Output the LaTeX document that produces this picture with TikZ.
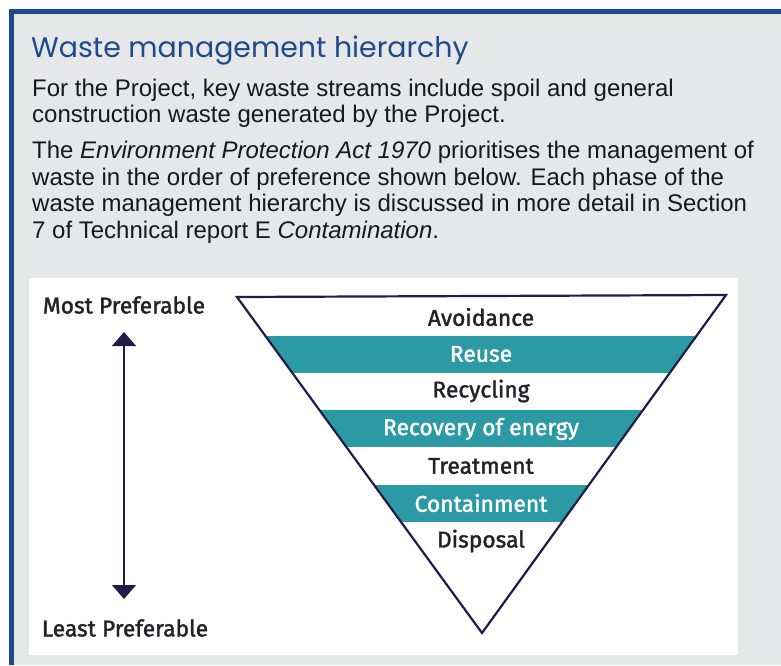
\documentclass[tikz,border=0pt]{standalone}
\usepackage{fontspec}
\setmainfont{Liberation Sans}
\newfontfamily\titlefont{Poppins}
\newfontfamily\labelfont{Fira Sans}[FakeBold=1.6]
\usetikzlibrary{arrows.meta,positioning}

\definecolor{boxblue}{HTML}{1F4A8C}
\definecolor{boxgray}{HTML}{E6E7E9}
\definecolor{bandteal}{HTML}{2B9AA5}
\definecolor{inkblue}{HTML}{211D4A}
\definecolor{labink}{HTML}{222228}

\begin{document}
\begin{tikzpicture}[x=1pt,y=-1pt,
          band/.style={fill=bandteal},
          lab/.style={font=\labelfont\fontsize{22.8}{26}\selectfont, text=labink, inner sep=0pt},
          lablight/.style={lab, text=white},
          para/.style={font=\fontsize{24}{26.5}\selectfont, text=black!90, align=left, inner sep=0pt, anchor=north west},
          prefarrow/.style={inkblue, line width=1.5pt, {Triangle[length=14pt,width=24pt]}-{Triangle[length=14pt,width=24pt]}}
        ]
          \useasboundingbox (0,0) rectangle (781,665);

          % Kasten
          \fill[white] (0,0) rectangle (781,665);
          \fill[boxgray] (9,9) rectangle (781,665);
          \fill[boxblue] (9,9) rectangle (781,14);
          \fill[boxblue] (9,9) rectangle (14,665);

          % Titel und Text
          \node[anchor=base west, inner sep=0pt, text=boxblue,
                font=\titlefont\fontsize{28.4}{32}\selectfont] (title) at (31,57) {Waste management hierarchy};
          \node[para] (intro) at (32,78.5) {For the Project, key waste streams include spoil and general\\
            construction waste generated by the Project.};
          \node[para] (act) at (32,141) {The \textit{Environment Protection Act 1970} prioritises the management of\\
            waste in the order of preference shown below. Each phase of the\\
            waste management hierarchy is discussed in more detail in Section\\
            7 of Technical report E \textit{Contamination}.};

          % Bildfeld
          \fill[white] (29,278) rectangle (738,655);

          % Dreieck
          \coordinate (tl) at (237,297);
          \coordinate (tr) at (726,295);
          \coordinate (bt) at (482,633);

          % Bänder (türkis)
          \begin{scope}
            \clip (tl) -- (tr) -- (bt) -- cycle;
            \fill[band] (200,336) rectangle (760,373);
            \fill[band] (200,410) rectangle (760,447);
            \fill[band] (200,485) rectangle (760,522);
          \end{scope}
          \draw[inkblue, line width=2.2pt, line join=miter] (tl) -- (tr) -- (bt) -- cycle;

          % Stufen
          \node[lab]      (avoid)   at (481,317) {Avoidance};
          \node[lablight] (reuse)   at (481,354) {Reuse};
          \node[lab]      (recycle) at (481,391) {Recycling};
          \node[lablight] (energy)  at (481,429) {Recovery of energy};
          \node[lab]      (treat)   at (481,466) {Treatment};
          \node[lablight] (contain) at (481,503) {Containment};
          \node[lab]      (dispose) at (481,541) {Disposal};

          % Skala
          \node[lab] (most)  at (124,305) {Most Preferable};
          \node[lab] (least) at (125,628) {Least Preferable};
          \coordinate (atop) at (124,332);
          \coordinate (abot) at (124,599);
          \draw[prefarrow] (atop) -- (abot);
        \end{tikzpicture}
\end{document}
